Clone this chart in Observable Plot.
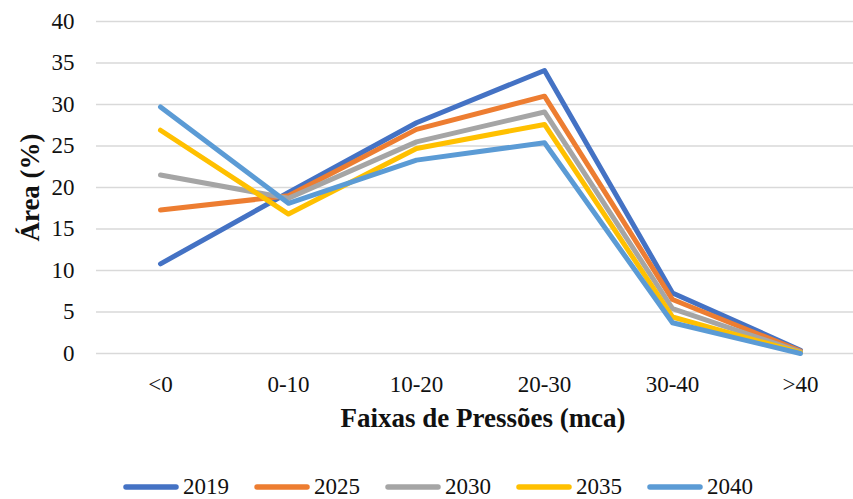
<!DOCTYPE html>
<html>
<head>
<meta charset="utf-8">
<script src="https://cdn.jsdelivr.net/npm/d3@7"></script>
<script src="https://cdn.jsdelivr.net/npm/@observablehq/plot@0.6"></script>
<style>
  html, body { margin: 0; padding: 0; background: #fff; }
  #chart { width: 853px; height: 499px; overflow: hidden; font-family: 'Liberation Serif', serif; }
  #chart svg, #chart svg text { font-family: 'Liberation Serif', serif !important; }
  .legend { display: flex; align-items: center; height: 32px; padding-left: 123px; gap: 25px; font-size: 23px; color: #111; font-family: 'Liberation Serif', serif; }
  .item { display: flex; align-items: center; gap: 4px; }
  .item svg { display: block; }
</style>
</head>
<body>
<div id="chart"></div>
<script>
const categories = ["<0", "0-10", "10-20", "20-30", "30-40", ">40"];
const years = ["2019", "2025", "2030", "2035", "2040"];
const colors = ["#4472C4", "#ED7D31", "#A5A5A5", "#FFC000", "#5B9BD5"];
const v2019 = [10.8, 19.4, 27.8, 34.1, 7.3, 0.4];
const v2025 = [17.3, 19.0, 27.0, 31.0, 6.5, 0.3];
const v2030 = [21.5, 18.7, 25.5, 29.1, 5.4, 0.2];
const v2035 = [26.9, 16.8, 24.7, 27.6, 4.4, 0.1];
const v2040 = [29.7, 18.1, 23.3, 25.4, 3.7, 0.0];
const yTicks = [0, 5, 10, 15, 20, 25, 30, 35, 40];
const xTitle = "Faixas de Pressões (mca)";
const yTitle = "Área (%)";

const seriesValues = [v2019, v2025, v2030, v2035, v2040];
const data = [];
years.forEach((yr, i) => {
  categories.forEach((c, j) => data.push({series: yr, cat: c, value: seriesValues[i][j]}));
});

const chart = Plot.plot({
  width: 853,
  height: 471,
  marginTop: 21,
  marginBottom: 118,
  marginLeft: 96,
  marginRight: 0,
  style: {fontFamily: "'Liberation Serif', serif", fontSize: "23px", color: "#111", background: "#fff"},
  x: {type: "point", domain: categories, range: [160, 800], padding: 0},
  y: {domain: [0, 40]},
  color: {domain: years, range: colors},
  marks: [
    Plot.ruleY(yTicks, {stroke: "#d9d9d9", strokeWidth: 1.5}),
    Plot.line(data, {x: "cat", y: "value", z: "series", stroke: "series", strokeWidth: 5, strokeLinecap: "round", strokeLinejoin: "round"}),
    Plot.axisY({ticks: yTicks, tickSize: 0, tickPadding: 22, label: null}),
    Plot.axisX({tickSize: 0, tickPadding: 22, label: null}),
    Plot.text([xTitle], {frameAnchor: "bottom", textAnchor: "middle", dy: 73, dx: 8, text: d => d, fontWeight: "bold", fontSize: 27}),
    Plot.text([yTitle], {frameAnchor: "left", textAnchor: "middle", dx: -66, rotate: -90, text: d => d, fontWeight: "bold", fontSize: 27})
  ]
});

const root = document.getElementById("chart");
root.appendChild(chart);

const legend = document.createElement("div");
legend.className = "legend";
years.forEach((yr, i) => {
  const item = document.createElement("div");
  item.className = "item";
  item.innerHTML = `<svg width="56" height="10"><line x1="3" y1="5" x2="53" y2="5" stroke="${colors[i]}" stroke-width="5.5" stroke-linecap="round"/></svg><span>${yr}</span>`;
  legend.appendChild(item);
});
root.appendChild(legend);
</script>
</body>
</html>
